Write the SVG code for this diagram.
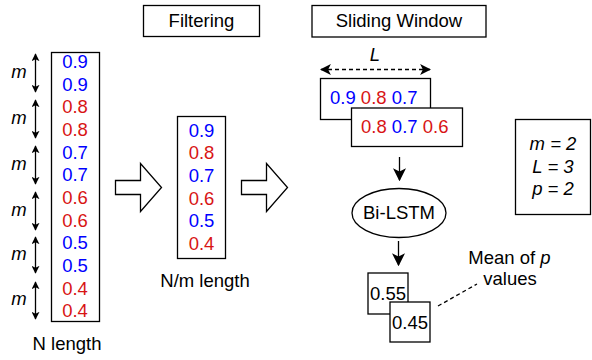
<svg xmlns="http://www.w3.org/2000/svg" width="592" height="360" viewBox="0 0 592 360">
<defs>
<style>
text{font-family:"Liberation Sans",Arial,sans-serif;font-size:18.5px;fill:#000;}
.c{text-anchor:middle;}
.b{fill:#0000ff;}
.r{fill:#d81414;}
.i{font-style:italic;}
.box{fill:#fff;stroke:#000;stroke-width:1.3;}
.ln{fill:none;stroke:#000;stroke-width:1.3;}
</style>
<marker id="ah" viewBox="0 0 10 10" refX="9" refY="5" markerWidth="8" markerHeight="8" markerUnits="userSpaceOnUse" orient="auto-start-reverse">
<path d="M0,0 L10,5 L0,10 L2.5,5 z" fill="#000"/>
</marker>
<marker id="ah2" viewBox="0 0 10 10" refX="9" refY="5" markerWidth="11" markerHeight="11" markerUnits="userSpaceOnUse" orient="auto-start-reverse">
<path d="M0,0 L10,5 L0,10 L2.5,5 z" fill="#000"/>
</marker>
<marker id="ah3" viewBox="0 0 10 10" refX="9" refY="5" markerWidth="13" markerHeight="13" markerUnits="userSpaceOnUse" orient="auto">
<path d="M0,0 L10,5 L0,10 L2.5,5 z" fill="#000"/>
</marker>
</defs>

<g id="connectors">
<line class="ln" x1="35.5" y1="54" x2="35.5" y2="92" marker-start="url(#ah)" marker-end="url(#ah)"/>
<line class="ln" x1="35.5" y1="100" x2="35.5" y2="138" marker-start="url(#ah)" marker-end="url(#ah)"/>
<line class="ln" x1="35.5" y1="146" x2="35.5" y2="184" marker-start="url(#ah)" marker-end="url(#ah)"/>
<line class="ln" x1="35.5" y1="192" x2="35.5" y2="230" marker-start="url(#ah)" marker-end="url(#ah)"/>
<line class="ln" x1="35.5" y1="237" x2="35.5" y2="273" marker-start="url(#ah)" marker-end="url(#ah)"/>
<line class="ln" x1="35.5" y1="282" x2="35.5" y2="319" marker-start="url(#ah)" marker-end="url(#ah)"/>
<line class="ln" x1="321" y1="69.5" x2="430" y2="69.5" stroke-dasharray="4,3" marker-start="url(#ah2)" marker-end="url(#ah2)"/>
<line class="ln" x1="399.5" y1="157" x2="399.5" y2="180" marker-end="url(#ah3)"/>
<line class="ln" x1="398.5" y1="241" x2="398.5" y2="265" marker-end="url(#ah3)"/>
<line class="ln" x1="438" y1="306" x2="477" y2="284" stroke-dasharray="4,3"/>
</g>

<g id="m-labels">
<text class="c i" x="19" y="78">m</text>
<text class="c i" x="19" y="124">m</text>
<text class="c i" x="19" y="170">m</text>
<text class="c i" x="19" y="216">m</text>
<text class="c i" x="19" y="260">m</text>
<text class="c i" x="19" y="305">m</text>
</g>

<g id="input-column">
<rect class="box" x="51.5" y="52.5" width="48" height="269"/>
<text class="c b" x="75" y="68">0.9</text>
<text class="c b" x="75" y="90.7">0.9</text>
<text class="c r" x="75" y="113.3">0.8</text>
<text class="c r" x="75" y="136">0.8</text>
<text class="c b" x="75" y="158.6">0.7</text>
<text class="c b" x="75" y="181.3">0.7</text>
<text class="c r" x="75" y="204">0.6</text>
<text class="c r" x="75" y="226.6">0.6</text>
<text class="c b" x="75" y="249.3">0.5</text>
<text class="c b" x="75" y="272">0.5</text>
<text class="c r" x="75" y="294.6">0.4</text>
<text class="c r" x="75" y="317.3">0.4</text>
<text class="c" x="67" y="350">N length</text>
</g>

<g id="arrow1">
<path class="box" d="M115.5,180.5 H140.5 V163.5 L161.5,187.5 L140.5,211.5 V194.5 H115.5 Z"/>
</g>

<g id="filtering">
<rect class="box" x="143.5" y="5.5" width="116" height="31"/>
<text class="c" x="201.5" y="27">Filtering</text>
</g>

<g id="filtered-column">
<rect class="box" x="177.5" y="116.5" width="48" height="142"/>
<text class="c b" x="201.5" y="136.5">0.9</text>
<text class="c r" x="201.5" y="159.2">0.8</text>
<text class="c b" x="201.5" y="181.8">0.7</text>
<text class="c r" x="201.5" y="204.5">0.6</text>
<text class="c b" x="201.5" y="227.1">0.5</text>
<text class="c r" x="201.5" y="249.8">0.4</text>
<text class="c" x="205" y="287">N/m length</text>
</g>

<g id="arrow2">
<path class="box" d="M241.5,180.5 H266.5 V163.5 L287.5,187.5 L266.5,211.5 V194.5 H241.5 Z"/>
</g>

<g id="sliding-window">
<rect class="box" x="312" y="5.5" width="174" height="31.5"/>
<text class="c" x="399" y="27">Sliding Window</text>
</g>

<g id="L-label">
<text class="c i" x="375" y="61">L</text>
</g>

<g id="window1">
<rect class="box" x="320.5" y="78.5" width="110" height="41"/>
<text x="330" y="104.3"><tspan class="b">0.9</tspan> <tspan class="r">0.8</tspan> <tspan class="b">0.7</tspan></text>
</g>

<g id="window2">
<rect class="box" x="351.5" y="108" width="111" height="38.5"/>
<text x="361" y="133.3"><tspan class="r">0.8</tspan> <tspan class="b">0.7</tspan> <tspan class="r">0.6</tspan></text>
</g>

<g id="params">
<rect class="box" x="515.5" y="119.5" width="75" height="95"/>
<text class="c i" x="553" y="150">m = 2</text>
<text class="c i" x="553" y="172.5">L = 3</text>
<text class="c i" x="553" y="195">p = 2</text>
</g>

<g id="bilstm">
<ellipse class="box" cx="399" cy="213" rx="47" ry="24.5"/>
<text class="c" x="399" y="218.5">Bi-LSTM</text>
</g>

<g id="out1">
<rect class="box" x="368" y="273" width="40" height="41"/>
<text class="c" x="388" y="299.5">0.55</text>
</g>

<g id="out2">
<rect class="box" x="390" y="302" width="40" height="40"/>
<text class="c" x="410" y="328.5">0.45</text>
</g>

<g id="mean-label">
<text class="c" x="509.5" y="263.5">Mean of <tspan class="i">p</tspan></text>
<text class="c" x="510" y="285">values</text>
</g>
</svg>
